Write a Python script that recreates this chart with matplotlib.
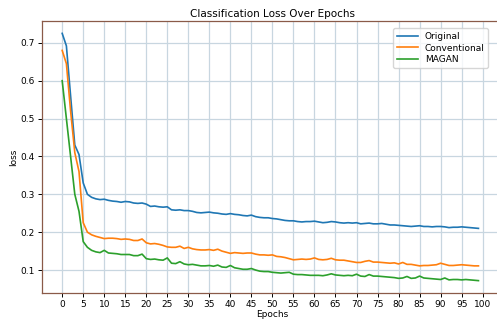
import matplotlib
matplotlib.use("Agg")
import matplotlib.pyplot as plt
import numpy as np

epochs = list(range(100))

original = [
    0.725, 0.692, 0.560, 0.430, 0.405, 0.330, 0.300, 0.292, 0.288, 0.286,
    0.287, 0.284, 0.282, 0.281, 0.279, 0.281, 0.280, 0.277, 0.276, 0.277,
    0.274, 0.268, 0.269, 0.267, 0.266, 0.267, 0.259, 0.258, 0.259, 0.257,
    0.257, 0.255, 0.252, 0.251, 0.252, 0.253, 0.251, 0.250, 0.248, 0.247,
    0.249, 0.247, 0.246, 0.244, 0.243, 0.245, 0.241, 0.239, 0.238, 0.238,
    0.236, 0.235, 0.233, 0.231, 0.230, 0.230, 0.228, 0.227, 0.228, 0.228,
    0.229, 0.227, 0.225, 0.226, 0.228, 0.227, 0.225, 0.224, 0.225, 0.224,
    0.225, 0.222, 0.223, 0.224, 0.222, 0.222, 0.223, 0.221, 0.219, 0.219,
    0.218, 0.217, 0.216, 0.215, 0.216, 0.217, 0.215, 0.215, 0.214, 0.215,
    0.215, 0.214, 0.212, 0.213, 0.213, 0.214, 0.213, 0.212, 0.211, 0.210,
]

conventional = [
    0.680, 0.645, 0.520, 0.410, 0.360, 0.225, 0.200, 0.193, 0.189, 0.186,
    0.183, 0.184, 0.184, 0.183, 0.181, 0.182, 0.181, 0.178, 0.178, 0.182,
    0.172, 0.169, 0.170, 0.168, 0.165, 0.161, 0.160, 0.160, 0.163, 0.157,
    0.160, 0.156, 0.154, 0.153, 0.153, 0.154, 0.152, 0.155, 0.150, 0.147,
    0.144, 0.146, 0.145, 0.144, 0.145, 0.145, 0.142, 0.140, 0.140, 0.139,
    0.140, 0.136, 0.135, 0.133, 0.130, 0.127, 0.128, 0.129, 0.128, 0.129,
    0.132, 0.128, 0.127, 0.128, 0.131, 0.127, 0.126, 0.126, 0.124, 0.122,
    0.120, 0.120, 0.123, 0.125, 0.121, 0.121, 0.120, 0.119, 0.118, 0.119,
    0.116, 0.120, 0.115, 0.115, 0.113, 0.111, 0.112, 0.112, 0.113, 0.114,
    0.118, 0.115, 0.112, 0.112, 0.113, 0.114, 0.113, 0.112, 0.111, 0.111,
]

magan = [
    0.600, 0.500, 0.400, 0.300, 0.255, 0.175, 0.160, 0.152, 0.148, 0.146,
    0.152, 0.145, 0.144, 0.143, 0.141, 0.141, 0.141, 0.138, 0.138, 0.142,
    0.130, 0.128, 0.129, 0.127, 0.126, 0.132, 0.118, 0.117, 0.122, 0.116,
    0.114, 0.115, 0.113, 0.111, 0.111, 0.112, 0.110, 0.113, 0.108, 0.107,
    0.112, 0.106, 0.104, 0.102, 0.102, 0.104, 0.100, 0.097, 0.096, 0.096,
    0.094, 0.093, 0.092, 0.093, 0.094, 0.089, 0.088, 0.088, 0.087, 0.086,
    0.086, 0.086, 0.085, 0.087, 0.090, 0.087, 0.086, 0.085, 0.086, 0.085,
    0.089, 0.084, 0.083, 0.088, 0.084, 0.084, 0.083, 0.082, 0.081, 0.080,
    0.078, 0.079, 0.083, 0.078, 0.079, 0.084, 0.079, 0.078, 0.077, 0.076,
    0.075, 0.079, 0.074, 0.075, 0.075, 0.074, 0.075, 0.074, 0.073, 0.072,
]

series_names = ["Original", "Conventional", "MAGAN"]
series_colors = ["#1f77b4", "#ff7f0e", "#2ca02c"]
x_ticks = list(range(0, 101, 5))
y_ticks = [0.1, 0.2, 0.3, 0.4, 0.5, 0.6, 0.7]

fig = plt.figure(figsize=(4.97, 3.25), dpi=100)
ax = fig.add_axes([42/497, 32/325, 460/497, 272/325])

for vals, name, col in zip([original, conventional, magan], series_names, series_colors):
    ax.plot(epochs, vals, color=col, label=name, linewidth=1.2)

ax.set_xticks(x_ticks)
ax.set_yticks(y_ticks)
ax.set_xlim(-4.8, 104.6)
ax.grid(True, color="#c8d6e0", linewidth=0.9)
ax.set_axisbelow(True)
ax.tick_params(labelsize=6.5, length=3, width=0.7, pad=2)
ax.set_title("Classification Loss Over Epochs", fontsize=7.5, pad=3)
ax.set_xlabel("Epochs", fontsize=6.5, labelpad=1)
ax.set_ylabel("loss", fontsize=6.5, labelpad=2)
for s in ["left", "top", "bottom"]:
    ax.spines[s].set_color("#8a5a48")
    ax.spines[s].set_linewidth(0.9)
ax.spines["right"].set_visible(False)

ax.legend(loc="upper right", fontsize=6.5, framealpha=0.8, handlelength=2.3,
          borderpad=0.4, labelspacing=0.3, bbox_to_anchor=(0.98, 0.99))

fig.savefig("out.png", dpi=100)
